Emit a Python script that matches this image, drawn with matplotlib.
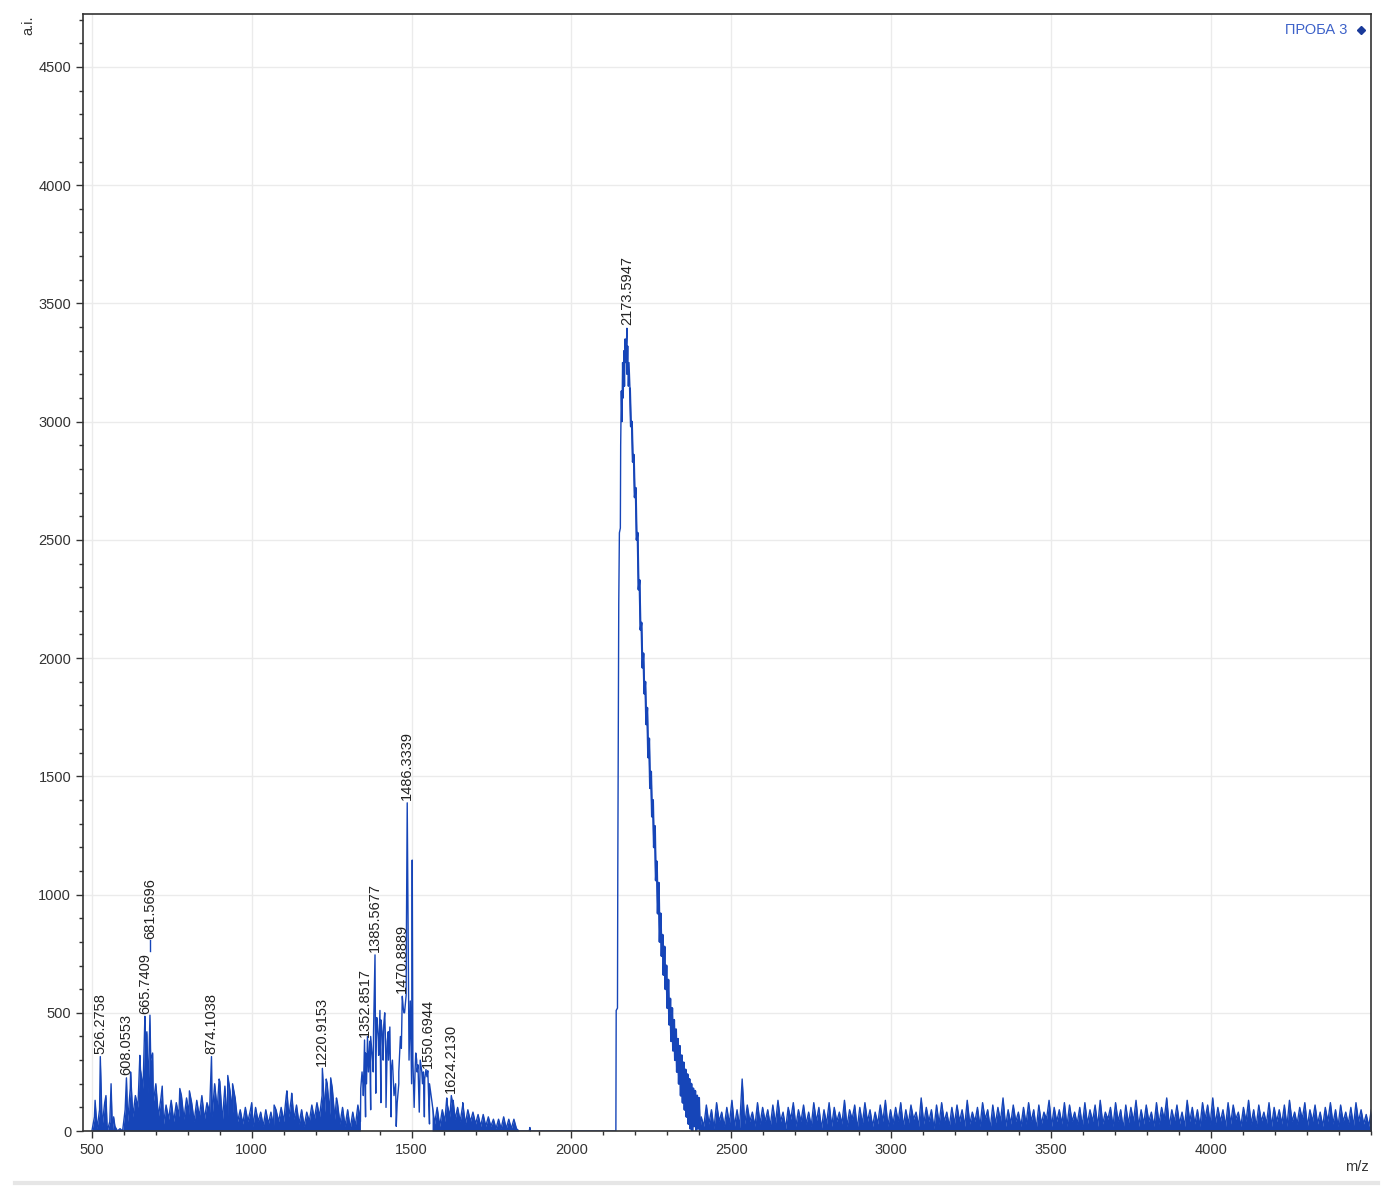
import numpy as np
import matplotlib
matplotlib.use("Agg")
import matplotlib.pyplot as plt
from matplotlib.ticker import MultipleLocator

plt.rcParams["font.family"] = ["Liberation Sans", "DejaVu Sans"]

# ---- spectrum data ----
# low-mass region, one value every 8 m/z starting at 500
low_start, low_step = 500, 8
low_int = [
    0, 60, 10, 90, 20, 120, 0, 40, 0, 20, 0, 10, 0, 90, 40, 180, 60, 150, 100, 260, 180, 380, 160, 300, 120,
    200, 60, 140, 30, 110, 50, 130, 40, 120, 60, 150, 50, 140, 70, 120, 40, 130, 60, 150, 50, 120, 80, 60, 200, 90,
    210, 40, 190, 20, 170, 80, 140, 40, 90, 30, 100, 40, 90, 20, 100, 40, 80, 20, 90, 30, 80, 20, 90, 40, 100,
    40, 150, 60, 140, 50, 110, 30, 90, 20, 80, 40, 110, 50, 120, 60, 150, 80, 200, 70, 180, 50, 120, 30, 100, 20,
    90, 10, 80, 20, 110, 40, 200, 60, 300, 90, 250, 160, 380, 120, 350, 100, 300, 60, 180, 20, 200, 350, 500, 880, 300,
    200, 100, 300, 80, 250, 60, 230, 30, 120, 30, 100, 20, 90, 40, 110, 60, 120, 50, 100, 40, 110, 30, 90, 40, 80,
    30, 70, 20, 70, 20, 60, 20, 50, 10, 50, 10, 60, 10, 50, 10, 50, 10, 0,
]

# single spikes in the low-mass region
spike_mz = [510, 526.2758, 544, 560, 568, 608.0553, 621, 650, 665.7409, 672, 681.5696, 690,
            720, 775, 805, 874.1038, 898, 925, 940, 1000, 1070, 1110, 1125,
            1220.9153, 1233, 1247, 1265, 1341, 1345, 1349, 1352.8517, 1356, 1359, 1362, 1365, 1369, 1372,
            1378, 1381, 1385.5677, 1388, 1391, 1393, 1397, 1401, 1404, 1408, 1411, 1413, 1416, 1419,
            1424, 1427, 1432, 1436, 1440, 1445, 1450, 1455, 1460, 1465, 1470.8889, 1474, 1478, 1483,
            1486.3339, 1489, 1496, 1502, 1504, 1511, 1513, 1517, 1520, 1527, 1530, 1534, 1537, 1541,
            1545, 1550.6944, 1556, 1610, 1624.2130, 1630, 1660, 1868, 1870, 1872]
spike_int = [130, 315, 150, 200, 60, 225, 250, 320, 485, 420, 490, 330,
             190, 180, 170, 315, 220, 235, 200, 120, 110, 170, 160,
             265, 220, 225, 140, 180, 250, 150, 385, 330, 200, 400, 250, 380, 400,
             300, 420, 745, 300, 480, 450, 320, 510, 470, 420, 300, 450, 500, 350,
             380, 420, 440, 250, 300, 150, 200, 120, 250, 400, 570, 520, 500, 575,
             1388, 880, 550, 1146, 300, 260, 330, 250, 280, 300, 270, 200, 250, 220,
             260, 255, 200, 140, 150, 130, 120, 0, 15, 0]

# the big peak around 2173 (rise and top)
main_mz = [2139, 2140, 2144, 2145, 2148, 2150, 2153, 2154, 2156, 2158, 2160, 2162, 2164, 2166, 2168, 2170,
           2173.5947, 2174, 2176, 2178, 2180]
main_int = [0, 510, 520, 1100, 2230, 2530, 2550, 2900, 3130, 3000, 3250, 3100, 3300, 3150, 3350, 3250,
            3395, 3200, 3320, 3150, 3250]

# its noisy falling edge, one value every 3 m/z starting at 2183
tail_start, tail_step = 2183, 3
tail_int = [
    3140, 2980, 3000, 2830, 2860, 2680, 2720, 2500, 2530, 2290, 2330, 2120, 2150, 1960, 2020, 1850, 1900,
    1720, 1790, 1580, 1660, 1450, 1520, 1330, 1400, 1200, 1290, 1060, 1140, 920, 1050, 800, 920, 740, 830,
    660, 780, 600, 700, 520, 640, 450, 560, 380, 520, 340, 470, 300, 430, 250, 390, 200, 360, 150, 320,
    120, 290, 90, 260, 60, 240, 30, 220, 10, 200, 0, 180, 20, 170, 0, 150, 10, 140, 0,
]

# high-mass noise, one value every 8 m/z starting at 2406
high_start, high_step = 2406, 8
high_int = [
    60, 20, 110, 30, 90, 10, 120, 40, 80, 20, 100, 30, 130, 20, 90, 15, 220, 30, 110, 40, 80, 20, 120, 30, 100,
    40, 90, 20, 110, 30, 130, 40, 80, 10, 100, 50, 120, 20, 90, 40, 110, 30, 80, 20, 120, 40, 100, 10, 90, 30,
    120, 20, 100, 40, 80, 30, 130, 20, 90, 50, 110, 10, 100, 30, 120, 40, 90, 20, 80, 30, 110, 40, 130, 20, 90,
    30, 100, 40, 120, 20, 90, 30, 110, 50, 80, 20, 140, 30, 100, 40, 90, 10, 110, 30, 120, 40, 80, 20, 100, 30,
    110, 40, 90, 20, 130, 30, 80, 40, 100, 20, 120, 50, 90, 10, 110, 30, 100, 40, 140, 20, 90, 30, 110, 40, 80,
    20, 100, 30, 120, 40, 90, 10, 110, 30, 80, 50, 130, 20, 100, 40, 90, 30, 120, 20, 110, 40, 80, 30, 100, 20,
    120, 30, 90, 40, 110, 20, 130, 30, 80, 50, 100, 20, 120, 40, 90, 10, 110, 30, 100, 40, 130, 20, 90, 30, 110,
    40, 80, 20, 120, 30, 100, 50, 140, 20, 90, 40, 110, 30, 80, 20, 130, 40, 100, 30, 90, 20, 120, 50, 110, 30,
    140, 30, 100, 40, 90, 20, 120, 30, 110, 50, 80, 20, 100, 40, 130, 30, 90, 20, 110, 40, 80, 30, 120, 20, 100,
    40, 90, 30, 110, 20, 130, 40, 80, 30, 100, 50, 120, 20, 90, 40, 110, 30, 80, 20, 100, 40, 120, 30, 90, 20,
    110, 40, 80, 30, 100, 20, 120, 40, 90, 30, 70, 20, 90,
]

# labelled peaks
label_mz = [526.2758, 608.0553, 665.7409, 681.5696, 874.1038, 1220.9153, 1352.8517,
            1385.5677, 1470.8889, 1486.3339, 1550.6944, 1624.2130, 2173.5947]
label_int = [315, 225, 485, 490, 315, 265, 385, 745, 570, 1388, 255, 150, 3395]
label_text = ["526.2758", "608.0553", "665.7409", "681.5696", "874.1038", "1220.9153", "1352.8517",
              "1385.5677", "1470.8889", "1486.3339", "1550.6944", "1624.2130", "2173.5947"]

legend_label = "ПРОБА 3"

# ---- assemble ----
low_mz = low_start + low_step * np.arange(len(low_int))
tail_mz = tail_start + tail_step * np.arange(len(tail_int))
high_mz = high_start + high_step * np.arange(len(high_int))
mz = np.concatenate([low_mz, spike_mz, main_mz, tail_mz, high_mz])
inten = np.concatenate([low_int, spike_int, main_int, tail_int, high_int])
order = np.argsort(mz, kind="stable")
mz, inten = mz[order], inten[order]

blue = "#1645b8"

fig = plt.figure(figsize=(13.94, 11.97), dpi=100)
ax = fig.add_axes([0.0595, 0.0551, 0.924, 0.9332])

ax.plot(mz, inten, color=blue, lw=1.0)
# falling edge looks thicker in the original
ax.plot(tail_mz, tail_int, color=blue, lw=1.5)
# the dense noise reads as a solid band in the original
for lo, hi in [(500, 1340), (1560, 1900), (2400, 4510)]:
    sel = (mz >= lo) & (mz <= hi)
    ax.fill_between(mz[sel], 0, inten[sel], color=blue, lw=0)

for m, v, t in zip(label_mz, label_int, label_text):
    lift = 55 if t == "681.5696" else 2
    ax.annotate(t, (m, v), xytext=(0, lift), textcoords="offset points",
                rotation=90, ha="center", va="bottom", fontsize=10.5, color="#222222")
    if lift > 2:
        ax.plot([m, m], [v + 270, v + 320], color=blue, lw=1.0)

ax.set_xlim(472, 4501)
ax.set_ylim(0, 4724)
ax.xaxis.set_minor_locator(MultipleLocator(100))
ax.yaxis.set_major_locator(MultipleLocator(500))
ax.yaxis.set_minor_locator(MultipleLocator(100))
ax.set_xticks(np.arange(500, 4001, 500))
ax.grid(True, which="major", color="#ebebeb", lw=1.0)
ax.set_axisbelow(True)
ax.tick_params(which="major", length=5, width=1, color="#333333", labelsize=10.5, labelcolor="#333333")
ax.tick_params(which="minor", length=3, width=1, color="#333333")
for s in ax.spines.values():
    s.set_color("#333333")
    s.set_linewidth(1.2)

ax.text(0.982, 0.9857, legend_label, transform=ax.transAxes, ha="right", va="center",
        fontsize=10.5, color="#3d62c9")
ax.plot([0.9922], [0.9857], transform=ax.transAxes, marker="D", ms=4, color="#1a3a9a",
        clip_on=False)

fig.text(28 / 1394, 1 - 25 / 1197, "a.i.", rotation=90, ha="center", va="center",
         fontsize=10.5, color="#333333")
fig.text(1357 / 1394, 1 - 1167 / 1197, "m/z", ha="center", va="center",
         fontsize=10.5, color="#333333")
fig.add_artist(plt.Line2D([15 / 1394, 1378 / 1394], [1 - 1183 / 1197] * 2,
                          color="#e6e6e6", lw=3, transform=fig.transFigure))

fig.savefig("out.png", dpi=100)
